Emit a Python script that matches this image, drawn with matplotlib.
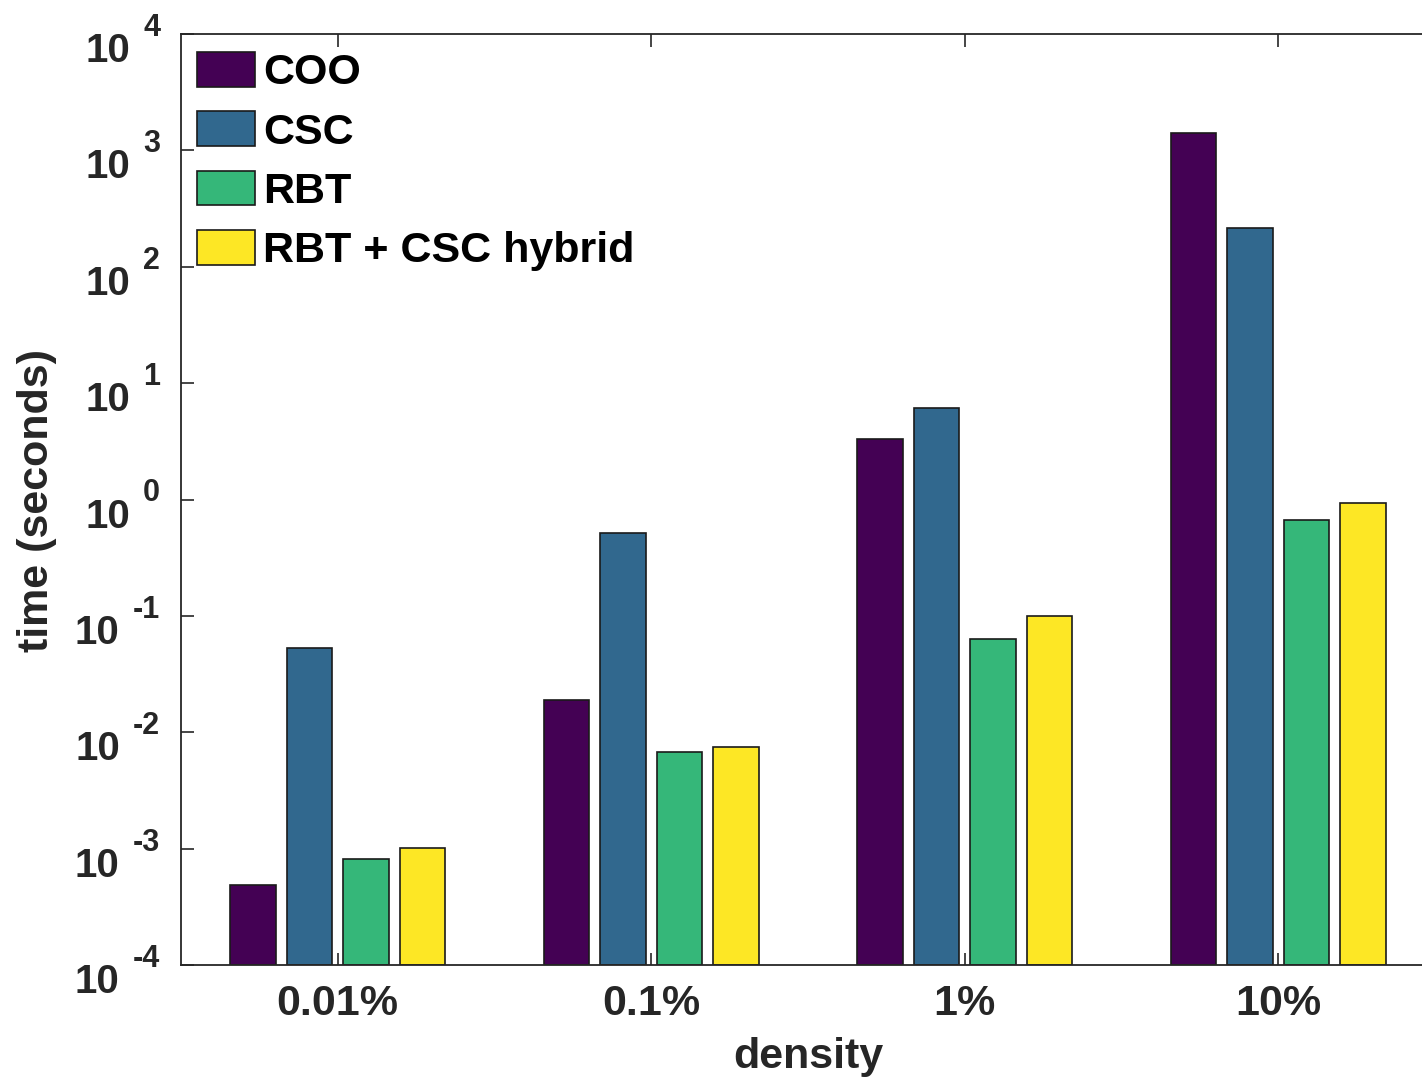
import numpy as np
import matplotlib
matplotlib.use("Agg")
import matplotlib.pyplot as plt
from matplotlib.transforms import blended_transform_factory, offset_copy

densities = ["0.01%", "0.1%", "1%", "10%"]
series_names = ["COO", "CSC", "RBT", "RBT + CSC hybrid"]
coo = [3.85e-4, 0.019, 3.28, 1407.0]
csc = [0.0533, 0.52, 6.07, 214.0]
rbt = [7.1e-4, 0.00667, 0.0637, 0.673]
hybrid = [9.2e-4, 0.00736, 0.1005, 0.925]
colors = ["#440154", "#31688E", "#35B779", "#FDE725"]
decades = [-4, -3, -2, -1, 0, 1, 2, 3, 4]

plt.rcParams["font.family"] = ["Liberation Sans", "DejaVu Sans"]
plt.rcParams["font.weight"] = "bold"

FS = 31
fig = plt.figure(figsize=(14.22, 10.8), dpi=100)
W, H = 1422.0, 1080.0
ax = fig.add_axes([181 / W, 115 / H, (1435 - 181) / W, (965 - 34) / H])

x = np.arange(1, len(densities) + 1)
offsets = [-0.27, -0.09, 0.09, 0.27]
width = 0.145
for vals, name, col, off in zip([coo, csc, rbt, hybrid], series_names, colors, offsets):
    ax.bar(x + off, vals, width=width, bottom=1e-4, color=col, edgecolor="#1a1a1a",
           linewidth=1.2, label=name)

ax.set_yscale("log")
ax.set_ylim(1e-4, 1e4)
ax.set_xlim(0.5, 4.5)

gray = "#262626"
for s in ax.spines.values():
    s.set_color(gray)
    s.set_linewidth(1.3)

ax.set_xticks(x)
ax.set_xticklabels(densities, fontsize=FS, fontweight="bold", color=gray)
ax.tick_params(axis="x", direction="in", length=9, width=1.2, color=gray, top=True,
               pad=14)
ax.set_yticks([10.0 ** d for d in decades])
ax.set_yticklabels([])
ax.yaxis.set_minor_locator(matplotlib.ticker.NullLocator())
ax.tick_params(axis="y", direction="in", length=9, width=1.2, color=gray, right=True)

# MATLAB-style "10 ^exp" tick labels: exponent right-aligned, base placed to its left
trans = blended_transform_factory(fig.transFigure, ax.transData)
exp_trans = offset_copy(trans, fig=fig, y=-1.4, units="points")
for d in decades:
    exp_txt = ax.text(160 / W, 10.0 ** d, f"{d}", transform=exp_trans,
                      ha="right", va="baseline", fontsize=22, fontweight="bold", color=gray)
    ax.annotate("10", xy=(0, 10.0 ** d), xycoords=(exp_txt, trans),
                xytext=(-9.4, -20.2), textcoords="offset points",
                ha="right", va="baseline",
                fontsize=29, fontweight="bold", color=gray, annotation_clip=False)

ax.set_xlabel("density", fontsize=FS, fontweight="bold", color=gray, labelpad=9)
fig.text(37 / W, 1 - 500 / H, "time (seconds)", rotation=90, ha="center", va="center",
         fontsize=FS, fontweight="bold", color=gray)

leg = ax.legend(loc="upper left", bbox_to_anchor=(-0.002, 1.0), frameon=False,
                fontsize=FS, handlelength=1.35, handleheight=0.86,
                handletextpad=0.19, labelspacing=0.42, borderaxespad=0.0,
                borderpad=0.42)
for t in leg.get_texts():
    t.set_fontweight("bold")
    t.set_color("black")

fig.savefig("out.png", dpi=100)
